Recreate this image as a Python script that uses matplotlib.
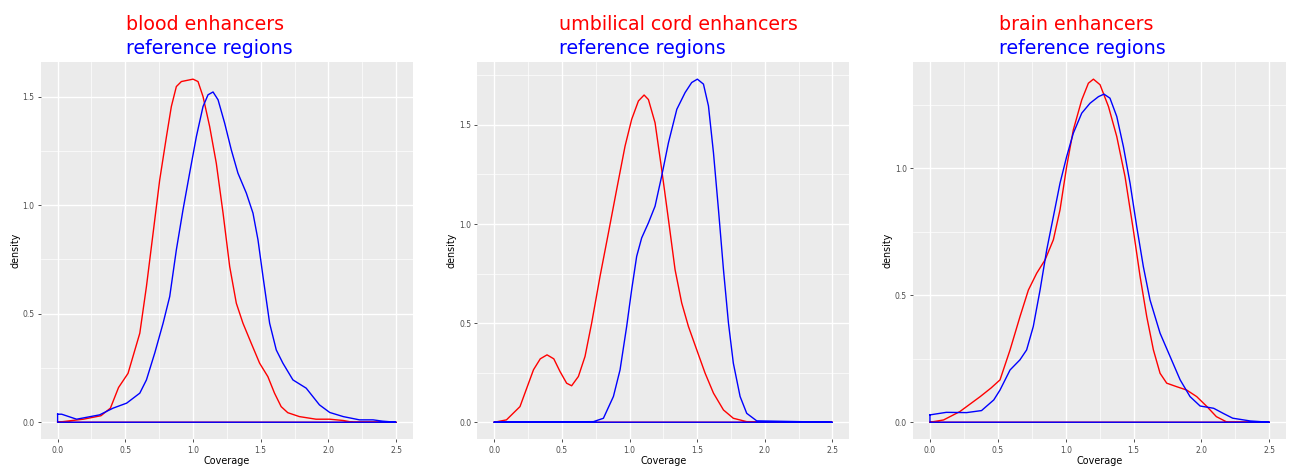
import matplotlib
matplotlib.use("Agg")
import matplotlib.pyplot as plt
import numpy as np

# titles (red = enhancers, blue = reference regions)
titles = ["blood enhancers", "umbilical cord enhancers", "brain enhancers"]
ref_title = "reference regions"

# density curves
blood_x = [0.0, 0.19, 0.32, 0.39, 0.45, 0.52, 0.607, 0.656, 0.705, 0.754, 0.804, 0.84, 0.877,
           0.914, 1.0, 1.037, 1.074, 1.123, 1.172, 1.222, 1.271, 1.32, 1.369, 1.43, 1.492, 1.553,
           1.602, 1.651, 1.70, 1.786, 1.909, 2.01, 2.11, 2.18, 2.5]
blood_y = [0.0, 0.014, 0.03, 0.065, 0.16, 0.225, 0.41, 0.625, 0.87, 1.116, 1.316, 1.454, 1.546,
           1.569, 1.58, 1.569, 1.50, 1.362, 1.193, 0.963, 0.717, 0.548, 0.456, 0.364, 0.272, 0.21,
           0.134, 0.072, 0.044, 0.026, 0.014, 0.014, 0.008, 0.0, 0.0]
blood_ref_x = [0.0, 0.03, 0.14, 0.31, 0.41, 0.51, 0.607, 0.656, 0.718, 0.779, 0.828, 0.877, 0.926,
               0.975, 1.025, 1.074, 1.111, 1.148, 1.185, 1.234, 1.283, 1.332, 1.394, 1.443, 1.48,
               1.517, 1.566, 1.615, 1.664, 1.738, 1.836, 1.934, 2.01, 2.11, 2.23, 2.33, 2.40, 2.5]
blood_ref_y = [0.037, 0.037, 0.014, 0.034, 0.065, 0.088, 0.134, 0.195, 0.32, 0.456, 0.579, 0.794,
               0.978, 1.147, 1.316, 1.454, 1.508, 1.521, 1.485, 1.377, 1.254, 1.147, 1.055, 0.963,
               0.84, 0.671, 0.456, 0.333, 0.272, 0.195, 0.157, 0.08, 0.045, 0.026, 0.011, 0.011,
               0.005, 0.0]

cord_x = [0.0, 0.09, 0.19, 0.29, 0.34, 0.39, 0.44, 0.486, 0.535, 0.572, 0.622, 0.671, 0.72, 0.782,
          0.844, 0.905, 0.967, 1.016, 1.066, 1.108, 1.14, 1.189, 1.238, 1.288, 1.337, 1.386, 1.436,
          1.497, 1.559, 1.621, 1.695, 1.768, 1.867, 2.5]
cord_y = [0.0, 0.012, 0.079, 0.265, 0.32, 0.34, 0.32, 0.256, 0.197, 0.184, 0.231, 0.332, 0.50,
          0.736, 0.955, 1.174, 1.393, 1.528, 1.621, 1.651, 1.628, 1.511, 1.276, 1.023, 0.77, 0.602,
          0.483, 0.366, 0.248, 0.147, 0.062, 0.02, 0.003, 0.0]
cord_ref_x = [0.0, 0.733, 0.807, 0.881, 0.93, 0.979, 1.016, 1.053, 1.09, 1.14, 1.189, 1.238, 1.288,
              1.35, 1.411, 1.46, 1.502, 1.547, 1.584, 1.621, 1.658, 1.695, 1.732, 1.768, 1.818,
              1.867, 1.941, 2.5]
cord_ref_y = [0.0, 0.003, 0.02, 0.13, 0.264, 0.483, 0.669, 0.837, 0.93, 1.006, 1.09, 1.242, 1.41,
              1.579, 1.663, 1.714, 1.731, 1.706, 1.596, 1.36, 1.073, 0.77, 0.50, 0.298, 0.13,
              0.045, 0.007, 0.0]

brain_x = [0.0, 0.10, 0.22, 0.37, 0.45, 0.516, 0.59, 0.663, 0.725, 0.786, 0.848, 0.909, 0.958,
           1.007, 1.056, 1.118, 1.167, 1.204, 1.253, 1.315, 1.376, 1.437, 1.498, 1.548, 1.597,
           1.646, 1.695, 1.744, 1.818, 1.891, 1.965, 2.04, 2.11, 2.19, 2.5]
brain_y = [0.0, 0.009, 0.042, 0.101, 0.135, 0.167, 0.285, 0.416, 0.521, 0.587, 0.64, 0.719, 0.837,
           1.008, 1.152, 1.27, 1.336, 1.352, 1.33, 1.244, 1.126, 0.968, 0.758, 0.574, 0.416, 0.285,
           0.193, 0.154, 0.14, 0.127, 0.101, 0.062, 0.022, 0.0, 0.0]
brain_ref_x = [0.0, 0.12, 0.27, 0.38, 0.47, 0.516, 0.59, 0.663, 0.712, 0.761, 0.811, 0.86, 0.909,
               0.958, 1.007, 1.056, 1.118, 1.179, 1.241, 1.282, 1.326, 1.376, 1.425, 1.474, 1.523,
               1.572, 1.621, 1.695, 1.769, 1.843, 1.916, 1.99, 2.09, 2.16, 2.23, 2.36, 2.5]
brain_ref_y = [0.029, 0.039, 0.038, 0.046, 0.088, 0.127, 0.206, 0.246, 0.285, 0.377, 0.521, 0.679,
               0.81, 0.942, 1.047, 1.139, 1.218, 1.257, 1.283, 1.293, 1.277, 1.205, 1.086, 0.942,
               0.771, 0.613, 0.482, 0.351, 0.259, 0.167, 0.101, 0.064, 0.055, 0.035, 0.016, 0.005,
               0.0]

curves = [
    (blood_x, blood_y, blood_ref_x, blood_ref_y),
    (cord_x, cord_y, cord_ref_x, cord_ref_y),
    (brain_x, brain_y, brain_ref_x, brain_ref_y),
]

W, H = 1290, 466
fig = plt.figure(figsize=(W / 100, H / 100), dpi=100)

# panel boxes in pixels: left, right, top, bottom
boxes = [(40.7, 413.0, 62, 439.4), (477.4, 849.2, 62, 439.4), (913.0, 1286.3, 62, 439.4)]
title_x = [126, 559, 999]

for i in range(3):
    l, r, t, b = boxes[i]
    ax = fig.add_axes([l / W, (H - b) / H, (r - l) / W, (b - t) / H])
    ax.set_facecolor("#EBEBEB")
    for s in ax.spines.values():
        s.set_visible(False)

    ex, ey, rx, ry = [np.array(v, dtype=float) for v in curves[i]]
    # density outline: curve + baseline, like geom_density
    for xs, ys, col in [(ex, ey, "#FF0000"), (rx, ry, "#0000FF")]:
        px = np.concatenate([xs, xs[::-1], xs[:1]])
        py = np.concatenate([ys, np.zeros(len(xs)), ys[:1]])
        ax.plot(px, py, color=col, lw=1.0, solid_joinstyle="round")

    ymax = max(ey.max(), ry.max())
    ax.set_xlim(-0.125, 2.625)
    ax.set_ylim(-0.05 * ymax, 1.05 * ymax)

    ax.set_xticks(np.arange(0, 2.51, 0.5))
    ax.set_xticks(np.arange(0.25, 2.5, 0.5), minor=True)
    yt = np.arange(0, ymax + 0.01, 0.5)
    ax.set_yticks(yt)
    ax.set_yticks(np.arange(0.25, ymax * 1.05, 0.5), minor=True)
    ax.set_xticklabels([f"{v:.1f}" for v in np.arange(0, 2.51, 0.5)])
    ax.set_yticklabels([f"{v:.1f}" for v in yt])
    ax.grid(which="major", color="white", lw=1.0)
    ax.grid(which="minor", color="white", lw=0.5)
    ax.set_axisbelow(True)
    ax.tick_params(which="major", length=2.5, width=0.6, color="#333333",
                   labelsize=5.5, labelcolor="#4D4D4D", pad=2)
    ax.tick_params(which="minor", length=0)

    ax.set_xlabel("Coverage", fontsize=6.9, labelpad=1)
    ax.set_ylabel("density", fontsize=6.9, labelpad=1.5)

    fig.text(title_x[i] / W, 1 - 30 / H, titles[i], color="#FF0000", fontsize=13.7,
             ha="left", va="baseline")
    fig.text(title_x[i] / W, 1 - 54 / H, ref_title, color="#0000FF", fontsize=13.7,
             ha="left", va="baseline")

fig.savefig("out.png", dpi=100)
